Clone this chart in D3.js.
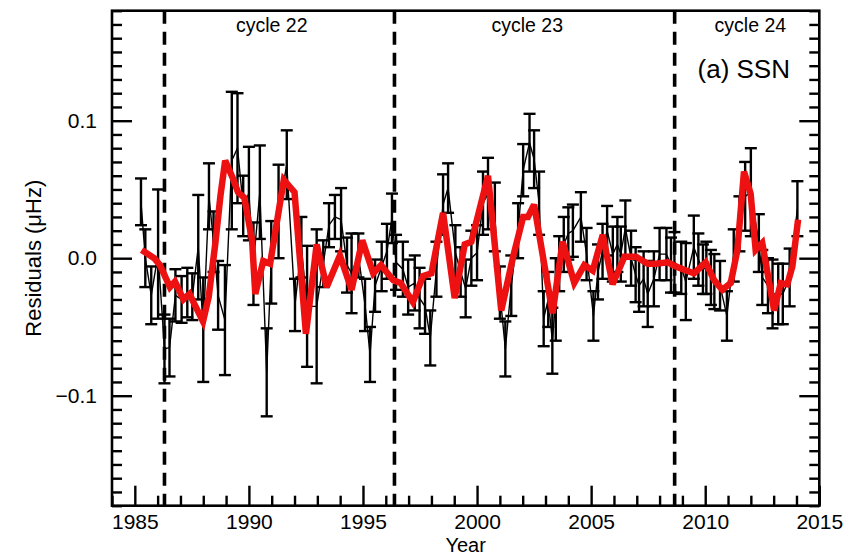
<!DOCTYPE html>
<html>
<head>
<meta charset="utf-8">
<script src="https://cdn.jsdelivr.net/npm/d3@7"></script>
<style>
  html, body { margin: 0; padding: 0; background: #fff; }
  svg { display: block; }
</style>
</head>
<body>
<svg id="chart" width="859" height="558"></svg>
<script>
// ---- data ----
const obsYears = [1985.27,1985.46,1985.72,1986.02,1986.30,1986.52,1986.78,1987.05,1987.30,1987.52,1987.78,1988.00,1988.25,1988.45,1988.65,1988.95,1989.25,1989.50,1989.75,1990.00,1990.20,1990.48,1990.78,1990.98,1991.30,1991.66,1992.02,1992.30,1992.55,1992.97,1993.26,1993.51,1993.77,1994.04,1994.30,1994.50,1994.80,1995.09,1995.31,1995.53,1995.82,1996.05,1996.27,1996.45,1996.75,1996.98,1997.27,1997.48,1997.72,1997.95,1998.22,1998.51,1998.73,1999.05,1999.28,1999.50,1999.75,2000.00,2000.26,2000.48,2000.78,2001.00,2001.24,2001.50,2001.80,2002.02,2002.30,2002.50,2002.72,2002.92,2003.12,2003.30,2003.45,2003.60,2003.80,2004.00,2004.20,2004.55,2004.80,2005.10,2005.30,2005.50,2005.70,2005.95,2006.15,2006.30,2006.50,2006.75,2006.95,2007.10,2007.30,2007.48,2007.75,2008.00,2008.30,2008.50,2008.65,2008.95,2009.15,2009.50,2009.70,2009.90,2010.05,2010.25,2010.40,2010.65,2010.95,2011.25,2011.50,2011.75,2012.00,2012.35,2012.50,2012.75,2012.95,2013.20,2013.40,2013.70,2014.04];
const obsValues = [0.041,0.000,-0.027,0.003,-0.066,-0.065,-0.027,-0.030,-0.025,-0.028,0.008,-0.052,0.045,0.012,-0.027,-0.045,0.071,0.080,0.038,0.047,-0.004,0.048,-0.083,-0.003,0.034,0.068,-0.034,0.008,-0.035,-0.035,-0.004,0.024,0.030,0.028,-0.005,-0.011,0.002,-0.034,-0.070,-0.020,-0.006,0.005,0.029,-0.003,-0.008,-0.021,-0.018,-0.029,-0.035,-0.058,-0.008,0.039,0.051,0.004,-0.010,-0.022,0.000,0.004,0.040,0.047,0.030,-0.025,-0.066,-0.020,0.020,0.064,0.084,0.072,0.040,-0.044,-0.030,-0.060,-0.030,-0.004,0.010,0.018,0.020,0.030,0.003,-0.042,-0.010,0.005,0.020,0.003,0.010,0.003,0.022,0.000,-0.012,-0.020,-0.015,-0.026,-0.015,0.003,0.003,-0.005,-0.003,-0.007,-0.017,0.008,-0.001,-0.008,-0.007,-0.014,-0.017,-0.020,-0.042,0.002,0.025,0.045,0.048,0.011,-0.014,-0.020,-0.026,-0.026,-0.026,-0.014,0.036];
const obsErrors = [0.017,0.021,0.021,0.047,0.025,0.021,0.019,0.017,0.018,0.017,0.038,0.038,0.024,0.022,0.025,0.040,0.050,0.040,0.022,0.034,0.030,0.034,0.032,0.030,0.034,0.025,0.019,0.022,0.044,0.056,0.017,0.016,0.016,0.023,0.020,0.029,0.016,0.019,0.020,0.019,0.018,0.020,0.018,0.020,0.020,0.020,0.020,0.022,0.020,0.020,0.020,0.022,0.018,0.020,0.018,0.021,0.020,0.020,0.023,0.026,0.025,0.019,0.020,0.022,0.020,0.019,0.021,0.021,0.023,0.020,0.020,0.024,0.030,0.020,0.020,0.019,0.019,0.018,0.019,0.018,0.020,0.020,0.018,0.020,0.020,0.020,0.020,0.020,0.020,0.019,0.020,0.024,0.020,0.019,0.019,0.020,0.022,0.019,0.028,0.023,0.019,0.018,0.019,0.020,0.020,0.018,0.018,0.019,0.020,0.025,0.032,0.021,0.020,0.020,0.025,0.022,0.022,0.021,0.020];

const ssnYears = [1985.30,1985.85,1986.10,1986.54,1986.76,1987.13,1987.40,1987.60,1987.99,1988.24,1988.53,1988.75,1988.96,1989.30,1989.52,1989.80,1990.14,1990.28,1990.63,1990.93,1991.53,1992.00,1992.50,1992.97,1993.41,1993.99,1994.50,1994.97,1995.45,1995.79,1996.33,1996.65,1997.19,1997.63,1998.00,1998.51,1999.02,1999.46,1999.75,2000.48,2001.06,2001.58,2002.02,2002.23,2002.50,2003.31,2003.75,2004.26,2004.70,2005.07,2005.51,2005.94,2006.46,2006.97,2007.48,2007.84,2008.36,2008.72,2009.16,2009.51,2010.02,2010.39,2010.75,2011.12,2011.41,2011.70,2011.99,2012.21,2012.50,2013.02,2013.31,2013.60,2013.82,2014.07];
const ssnValues = [0.006,0.000,-0.005,-0.021,-0.017,-0.030,-0.026,-0.033,-0.046,-0.028,0.011,0.045,0.071,0.058,0.048,0.044,0.013,-0.026,-0.002,-0.004,0.057,0.048,-0.055,0.010,-0.021,0.002,-0.023,0.013,-0.011,-0.005,-0.016,-0.018,-0.032,-0.013,-0.011,0.033,-0.029,0.010,0.012,0.060,-0.038,0.001,0.030,0.030,0.039,-0.040,0.012,-0.018,-0.005,-0.009,0.017,-0.019,0.001,0.001,-0.004,-0.004,-0.003,-0.006,-0.009,-0.011,-0.003,-0.016,-0.023,-0.018,0.006,0.063,0.047,0.006,0.011,-0.038,-0.018,-0.019,-0.006,0.028];

const cycleStarts = [1986.3, 1996.38, 2008.66];
const cycleLabels = ["cycle 22", "cycle 23", "cycle 24"];
const cycleLabelYears = [1991.0, 2002.2, 2011.98];
const xMajorTicks = [1985, 1990, 1995, 2000, 2005, 2010, 2015];
const yMajorTicks = [-0.1, 0.0, 0.1];
const xDomain = [1984, 2015];
const yDomain = [-0.18, 0.18];
const panelLabel = "(a) SSN";
const xTitle = "Year";
const yTitle = "Residuals (\u03bcHz)";

// ---- layout ----
const W = 859, H = 558;
const L = 112, R = 819.3, T = 10.7, B = 505.7;
const FONT = "'Liberation Sans', Arial, Helvetica, sans-serif";

const svg = d3.select("#chart");
const x = d3.scaleLinear().domain(xDomain).range([L, R]);
const y = d3.scaleLinear().domain(yDomain).range([B, T]);

const xMinor = d3.range(xDomain[0], xDomain[1] + 0.001, 1).filter(v => !xMajorTicks.includes(v));
const yMinor = d3.range(-18, 19).map(v => v / 100).filter(v => Math.abs(v*10 - Math.round(v*10)) > 1e-6);

function styleAxis(g) {
  g.select(".domain").remove();
  g.selectAll(".tick line").attr("stroke", "#000").attr("stroke-width", 2.4);
  g.attr("font-family", FONT).attr("font-size", 21);
  g.selectAll(".tick text").attr("fill", "#000");
}

// bottom axis
svg.append("g").attr("transform", `translate(0,${B})`)
  .call(d3.axisBottom(x).tickValues(xMajorTicks).tickSize(-20).tickPadding(8).tickFormat(d3.format("d")))
  .call(styleAxis);
svg.append("g").attr("transform", `translate(0,${B})`)
  .call(d3.axisBottom(x).tickValues(xMinor).tickSize(-10).tickFormat(""))
  .call(styleAxis);

// left axis
const yFmt = d => d === 0 ? "0.0" : (d < 0 ? "\u2212" : "") + Math.abs(d).toFixed(1);
svg.append("g").attr("transform", `translate(${L},0)`)
  .call(d3.axisLeft(y).tickValues(yMajorTicks).tickSize(-20).tickPadding(15).tickFormat(yFmt))
  .call(styleAxis);
svg.append("g").attr("transform", `translate(${L},0)`)
  .call(d3.axisLeft(y).tickValues(yMinor).tickSize(-10).tickFormat(""))
  .call(styleAxis);

// right axis
svg.append("g").attr("transform", `translate(${R},0)`)
  .call(d3.axisRight(y).tickValues(yMajorTicks).tickSize(-20).tickFormat(""))
  .call(styleAxis);
svg.append("g").attr("transform", `translate(${R},0)`)
  .call(d3.axisRight(y).tickValues(yMinor).tickSize(-10).tickFormat(""))
  .call(styleAxis);

// cycle boundaries
svg.append("g").selectAll("line").data(cycleStarts).join("line")
  .attr("x1", d => x(d)).attr("x2", d => x(d))
  .attr("y1", T).attr("y2", B)
  .attr("stroke", "#000").attr("stroke-width", 3.6)
  .attr("stroke-dasharray", "13,8");

// observations
const obs = obsYears.map((yr, i) => ({ yr, v: obsValues[i], e: obsErrors[i] }));
const gObs = svg.append("g");
gObs.append("path").datum(obs)
  .attr("fill", "none").attr("stroke", "#000").attr("stroke-width", 1.4)
  .attr("d", d3.line().x(d => x(d.yr)).y(d => y(d.v)));
const eb = gObs.selectAll("g.eb").data(obs).join("g").attr("class", "eb")
  .attr("stroke", "#000").attr("stroke-width", 2.4);
eb.append("line").attr("x1", d => x(d.yr)).attr("x2", d => x(d.yr))
  .attr("y1", d => y(d.v + d.e)).attr("y2", d => y(d.v - d.e));
eb.append("line").attr("x1", d => x(d.yr) - 6).attr("x2", d => x(d.yr) + 6)
  .attr("y1", d => y(d.v + d.e)).attr("y2", d => y(d.v + d.e));
eb.append("line").attr("x1", d => x(d.yr) - 6).attr("x2", d => x(d.yr) + 6)
  .attr("y1", d => y(d.v - d.e)).attr("y2", d => y(d.v - d.e));

// SSN proxy curve
const ssn = ssnYears.map((yr, i) => ({ yr, v: ssnValues[i] }));
svg.append("path").datum(ssn)
  .attr("fill", "none").attr("stroke", "#ee1111").attr("stroke-width", 6.5)
  .attr("stroke-linejoin", "miter").attr("stroke-miterlimit", 3)
  .attr("d", d3.line().x(d => x(d.yr)).y(d => y(d.v)));

// frame
svg.append("rect").attr("x", L).attr("y", T).attr("width", R - L).attr("height", B - T)
  .attr("fill", "none").attr("stroke", "#000").attr("stroke-width", 2.6);

// labels
svg.append("g").selectAll("text").data(cycleLabels).join("text")
  .attr("x", (d, i) => x(cycleLabelYears[i])).attr("y", 32)
  .attr("text-anchor", "middle").attr("font-family", FONT).attr("font-size", 19.5)
  .text(d => d);
svg.append("text").attr("x", 790).attr("y", 78).attr("text-anchor", "end")
  .attr("font-family", FONT).attr("font-size", 26).text(panelLabel);
svg.append("text").attr("x", (L + R) / 2).attr("y", 552).attr("text-anchor", "middle")
  .attr("font-family", FONT).attr("font-size", 20).text(xTitle);
svg.append("text").attr("transform", `translate(41,${y(0)}) rotate(-90)`)
  .attr("text-anchor", "middle").attr("font-family", FONT).attr("font-size", 22).text(yTitle);
</script>
</body>
</html>
